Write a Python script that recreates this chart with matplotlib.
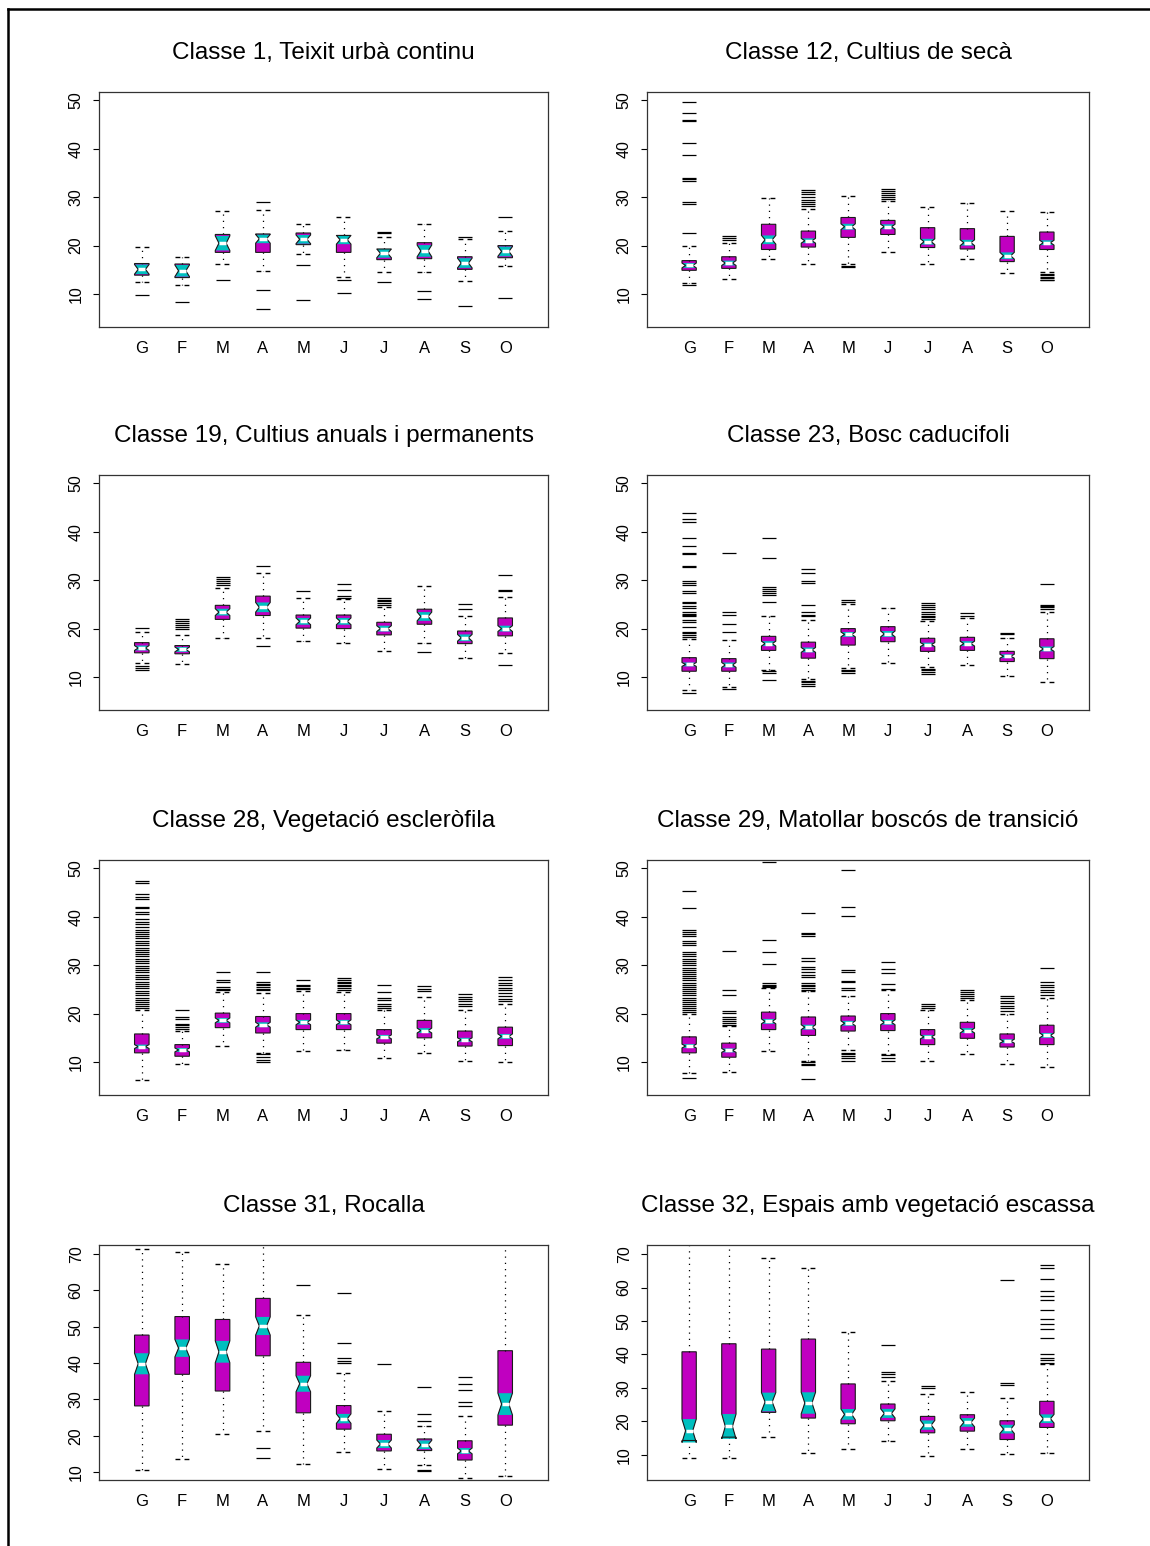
import matplotlib
matplotlib.use("Agg")
import matplotlib.pyplot as plt
from matplotlib.patches import PathPatch
from matplotlib.lines import Line2D

plt.rcParams["font.family"] = ["Liberation Sans", "DejaVu Sans"]

# %% data
months = ["G", "F", "M", "A", "M", "J", "J", "A", "S", "O"]
titles = [
    "Classe 1, Teixit urbà continu",
    "Classe 12, Cultius de secà",
    "Classe 19, Cultius anuals i permanents",
    "Classe 23, Bosc caducifoli",
    "Classe 28, Vegetació escleròfila",
    "Classe 29, Matollar boscós de transició",
    "Classe 31, Rocalla",
    "Classe 32, Espais amb vegetació escassa",
]

c1_lo = [12.4, 11.9, 16.3, 14.7, 18.2, 13.6, 14.6, 14.6, 12.7, 15.8]
c1_q1 = [13.9, 13.4, 18.6, 18.6, 20.2, 18.6, 17.1, 17.3, 15.1, 17.5]
c1_med = [15.1, 14.8, 20.5, 21.4, 21.3, 21.2, 18.4, 18.9, 16.4, 18.8]
c1_q3 = [16.3, 16.2, 22.3, 22.4, 22.6, 22.1, 19.3, 20.6, 17.7, 20.0]
c1_hi = [19.7, 17.7, 27.1, 27.4, 24.4, 26.0, 21.7, 24.4, 21.3, 23.0]
c1_notch = [1.0, 1.2, 1.5, 0.9, 0.9, 0.9, 0.9, 1.2, 1.0, 1.0]
c1_out = [[9.8], [8.4], [12.9], [28.9, 10.9, 6.9], [16.0, 8.8], [12.9, 10.3],
          [22.8, 22.5, 12.5], [10.7, 8.9], [21.7, 7.5], [26.0, 9.1]]

c12_lo = [12.2, 13.2, 17.3, 16.1, 16.1, 18.6, 16.3, 17.3, 14.4, 14.6]
c12_q1 = [14.9, 15.3, 19.2, 19.7, 21.7, 22.3, 19.6, 19.3, 16.7, 19.2]
c12_med = [15.9, 16.4, 21.2, 21.0, 23.9, 23.9, 20.8, 20.6, 17.9, 20.6]
c12_q3 = [16.9, 17.7, 24.4, 23.0, 25.8, 25.2, 23.7, 23.5, 21.9, 22.8]
c12_hi = [19.9, 20.6, 29.8, 27.6, 30.2, 29.2, 28.0, 28.8, 27.1, 26.9]
c12_notch = [0.5, 0.5, 0.9, 0.5, 0.6, 0.5, 0.6, 0.6, 0.7, 0.5]
c12_out = [[49.7, 47.4, 45.9, 45.7, 41.1, 38.7, 34.0, 33.7, 33.4, 29.0, 28.6, 22.6, 11.8],
           [21.9, 21.6, 21.2], [],
           [31.5, 31.1, 30.6, 30.0, 29.5, 28.9, 28.5, 28.1],
           [15.8, 15.5],
           [31.7, 31.3, 30.9, 30.5, 30.1, 29.7],
           [], [], [],
           [14.2, 13.9, 13.6, 13.3, 13.0, 12.8]]

c19_lo = [13.0, 12.6, 18.1, 18.1, 17.4, 17.0, 15.4, 17.1, 13.9, 14.9]
c19_q1 = [15.0, 14.8, 21.9, 22.7, 20.1, 20.0, 18.7, 20.9, 16.9, 18.5]
c19_med = [16.0, 15.7, 23.4, 24.4, 21.5, 21.5, 20.0, 22.5, 18.1, 20.0]
c19_q3 = [17.1, 16.5, 24.8, 26.7, 22.8, 22.8, 21.3, 24.0, 19.5, 22.2]
c19_hi = [19.4, 18.7, 28.4, 31.4, 26.3, 26.2, 24.4, 28.7, 22.5, 26.5]
c19_notch = [0.5, 0.5, 0.7, 1.0, 0.7, 0.7, 0.6, 0.9, 0.7, 0.6]
c19_out = [[20.2, 12.3, 11.9, 11.4],
           [22.0, 21.5, 21.1, 20.7, 20.4, 20.0],
           [30.7, 30.3, 29.8, 29.4, 29.0],
           [32.9, 16.5], [27.7],
           [29.2, 27.9, 26.8, 26.4],
           [26.4, 26.0, 25.6, 25.2, 24.8],
           [15.1], [25.1, 24.0],
           [31.0, 28.0, 27.7, 12.5]]

c23_lo = [7.3, 7.9, 11.5, 9.6, 11.9, 13.0, 12.0, 12.4, 10.3, 9.0]
c23_q1 = [11.2, 11.2, 15.5, 13.9, 16.6, 17.3, 15.3, 15.5, 13.2, 13.8]
c23_med = [12.6, 12.5, 16.9, 15.6, 18.8, 18.9, 16.7, 16.9, 14.3, 15.8]
c23_q3 = [14.0, 13.8, 18.4, 17.2, 20.0, 20.4, 18.0, 18.2, 15.3, 17.9]
c23_hi = [17.9, 17.6, 22.5, 21.8, 25.0, 24.3, 21.5, 22.2, 18.0, 23.5]
c23_notch = [0.4, 0.5, 0.5, 0.5, 0.5, 0.6, 0.4, 0.5, 0.4, 0.5]
c23_out = [[43.8, 42.6, 42.0, 38.7, 37.0, 35.6, 35.4, 33.0, 32.8, 29.9, 29.5, 29.0,
            27.7, 27.4, 25.5, 25.2, 24.6, 24.3, 23.4, 23.1, 22.9, 22.5, 21.7, 21.3,
            20.3, 19.3, 19.0, 18.7, 18.2, 6.8],
           [35.5, 23.5, 22.9, 21.0, 19.3, 7.5],
           [38.6, 34.5, 28.6, 28.1, 27.7, 27.3, 27.0, 25.5, 11.2, 10.9, 9.4],
           [32.2, 31.4, 29.9, 29.4, 24.8, 23.5, 22.9, 22.5, 9.2, 8.9, 8.6, 8.2],
           [25.8, 25.5, 11.5, 11.2, 10.8],
           [],
           [25.2, 24.8, 24.4, 24.0, 23.5, 23.1, 22.7, 22.3, 21.9, 11.7, 11.4, 11.0, 10.7],
           [23.2, 22.7], [19.1, 18.8],
           [29.2, 24.9, 24.6, 24.4, 24.1]]

c28_lo = [6.2, 9.7, 13.4, 11.9, 12.3, 12.5, 10.9, 11.9, 10.3, 10.0]
c28_q1 = [11.9, 11.2, 17.1, 16.0, 16.7, 16.7, 13.9, 15.0, 13.3, 13.4]
c28_med = [13.2, 12.5, 18.6, 17.7, 18.2, 18.2, 15.2, 16.5, 14.6, 15.3]
c28_q3 = [15.8, 13.6, 20.1, 19.4, 20.0, 20.0, 16.7, 18.6, 16.4, 17.2]
c28_hi = [20.8, 16.5, 24.5, 24.2, 24.6, 24.4, 20.7, 23.5, 20.8, 22.0]
c28_notch = [0.4, 0.4, 0.5, 0.5, 0.5, 0.5, 0.4, 0.5, 0.4, 0.5]
c28_out = [[47.4, 47.0, 44.6, 44.1, 43.6, 42.0, 41.7, 41.0, 40.6, 39.5, 39.0, 38.4,
            37.8, 37.3, 36.9, 36.4, 36.0, 35.5, 35.0, 34.6, 34.1, 33.6, 33.2, 32.7,
            32.2, 31.8, 31.3, 30.8, 30.4, 29.9, 29.4, 29.0, 28.5, 28.0, 27.5, 27.1,
            26.6, 26.1, 25.7, 25.2, 24.7, 24.3, 23.8, 23.3, 22.9, 22.4, 21.9, 21.5, 21.1],
           [20.8, 19.3, 18.9, 17.9, 17.6, 17.2, 16.9],
           [28.6, 27.0, 26.5, 25.5, 25.1, 24.8],
           [28.6, 26.5, 26.2, 25.8, 25.5, 25.1, 24.8, 11.6, 11.0, 10.5, 10.0],
           [27.0, 26.0, 25.7, 25.3, 25.0],
           [27.3, 27.0, 26.6, 26.3, 25.9, 25.6, 25.2, 24.8],
           [25.8, 24.4, 23.3, 22.9, 21.9, 21.5, 21.1],
           [25.6, 25.1, 24.6],
           [24.1, 23.5, 23.1, 22.5, 22.0, 21.5],
           [27.5, 27.0, 26.4, 25.9, 25.3, 24.8, 24.2, 23.7, 23.1, 22.6]]

c29_lo = [7.7, 7.9, 12.3, 10.3, 12.4, 11.7, 10.3, 11.7, 9.5, 9.0]
c29_q1 = [11.9, 11.0, 16.7, 15.5, 16.4, 16.5, 13.6, 14.9, 13.1, 13.6]
c29_med = [13.3, 12.4, 18.4, 17.2, 18.0, 18.2, 15.2, 16.5, 14.3, 15.5]
c29_q3 = [15.2, 13.9, 20.3, 19.3, 19.5, 20.0, 16.7, 18.2, 15.8, 17.6]
c29_hi = [19.9, 17.4, 25.2, 24.6, 23.7, 24.8, 20.8, 22.9, 20.0, 23.3]
c29_notch = [0.4, 0.4, 0.5, 0.5, 0.5, 0.5, 0.4, 0.5, 0.4, 0.5]
c29_out = [[45.4, 41.8, 37.2, 36.8, 36.4, 36.0, 35.0, 34.5, 34.1, 32.7, 32.2, 31.8,
            31.3, 30.9, 30.4, 30.0, 29.5, 29.1, 28.6, 28.2, 27.8, 27.3, 26.9, 26.4,
            26.0, 25.5, 25.1, 24.6, 24.2, 23.8, 23.3, 22.9, 22.4, 22.0, 21.6, 21.1,
            20.7, 20.3, 6.7],
           [33.0, 24.9, 23.9, 20.5, 20.1, 19.3, 18.9, 18.5, 18.0, 17.6],
           [51.2, 35.2, 32.7, 30.3, 26.3, 26.0, 25.7, 25.5],
           [40.7, 36.7, 36.4, 36.0, 31.5, 30.8, 29.7, 29.2, 28.6, 27.9, 27.5, 26.3,
            25.9, 25.6, 25.3, 24.9, 10.0, 9.7, 9.3, 6.6],
           [49.7, 42.1, 40.2, 28.9, 28.6, 26.8, 26.5, 25.3, 24.8, 11.9, 11.6, 11.2,
            10.8, 10.3],
           [30.6, 29.2, 28.4, 26.2, 25.1, 11.4, 10.9, 10.3],
           [21.9, 21.5, 21.1],
           [24.9, 24.5, 24.1, 23.7, 23.3],
           [23.7, 23.3, 22.7, 22.2, 21.6, 21.1, 20.5],
           [29.4, 26.5, 26.0, 25.5, 24.9, 24.4, 23.8]]

c31_lo = [10.6, 13.5, 20.6, 21.3, 12.1, 15.4, 10.8, 11.8, 8.4, 8.9]
c31_q1 = [28.2, 36.9, 32.3, 42.0, 26.3, 21.8, 15.8, 15.9, 13.3, 22.9]
c31_med = [39.8, 44.1, 43.1, 50.2, 34.3, 24.7, 17.7, 17.5, 15.8, 28.7]
c31_q3 = [47.7, 52.8, 52.0, 57.8, 40.2, 28.3, 20.4, 19.1, 18.6, 43.4]
c31_hi = [71.4, 70.6, 67.2, 74.0, 53.2, 37.2, 26.8, 22.7, 25.5, 74.0]
c31_notch = [2.9, 2.4, 3.0, 2.5, 2.2, 1.3, 1.1, 1.2, 0.8, 3.0]
c31_out = [[], [], [], [16.5, 13.9], [61.5],
           [59.4, 45.4, 41.3, 40.6, 39.9],
           [39.7],
           [33.3, 25.9, 24.1, 10.6, 10.3],
           [36.1, 34.2, 32.6, 29.4, 28.2],
           []]

c32_lo = [9.1, 9.1, 15.4, 10.6, 11.8, 14.1, 9.6, 11.8, 10.3, 10.6]
c32_q1 = [14.3, 15.3, 22.7, 21.0, 19.3, 20.2, 16.6, 17.1, 14.6, 18.2]
c32_med = [17.2, 18.5, 25.8, 25.5, 22.1, 22.4, 18.9, 19.7, 17.7, 20.8]
c32_q3 = [40.8, 43.2, 41.6, 44.6, 31.2, 25.2, 21.5, 22.0, 20.2, 26.0]
c32_hi = [74.0, 74.0, 68.9, 65.9, 46.8, 32.2, 28.3, 28.7, 26.9, 37.2]
c32_notch = [3.5, 3.7, 2.8, 3.2, 1.6, 1.35, 1.4, 1.3, 1.3, 1.3]
c32_out = [[], [], [], [], [],
           [42.9, 34.9, 34.2, 33.4],
           [30.7, 30.0],
           [],
           [62.2, 31.4, 30.9],
           [66.7, 65.7, 62.4, 59.1, 57.5, 56.3, 53.3, 50.5, 49.1, 47.5, 44.9,
            40.2, 38.8, 38.2, 37.4]]

panels = [
    (c1_lo, c1_q1, c1_med, c1_q3, c1_hi, c1_notch, c1_out),
    (c12_lo, c12_q1, c12_med, c12_q3, c12_hi, c12_notch, c12_out),
    (c19_lo, c19_q1, c19_med, c19_q3, c19_hi, c19_notch, c19_out),
    (c23_lo, c23_q1, c23_med, c23_q3, c23_hi, c23_notch, c23_out),
    (c28_lo, c28_q1, c28_med, c28_q3, c28_hi, c28_notch, c28_out),
    (c29_lo, c29_q1, c29_med, c29_q3, c29_hi, c29_notch, c29_out),
    (c31_lo, c31_q1, c31_med, c31_q3, c31_hi, c31_notch, c31_out),
    (c32_lo, c32_q1, c32_med, c32_q3, c32_hi, c32_notch, c32_out),
]

# %% layout (pixels)
W, H = 1150, 1546
col_x = [(99, 449), (647, 442)]
row_top = [92, 475, 860, 1245]
ax_h = 235
ylims = [(3.2, 51.7)] * 6 + [(7.8, 72.5), (2.5, 72.7)]
yticks = [[10, 20, 30, 40, 50]] * 6 + [[10, 20, 30, 40, 50, 60, 70]] * 2

MAGENTA = "#C000C0"
CYAN = "#00BFBF"
bw = 0.36

fig = plt.figure(figsize=(W / 100, H / 100), dpi=100)

for k, (lo, q1, med, q3, hi, notch, out) in enumerate(panels):
    r, c = divmod(k, 2)
    x0, w = col_x[c]
    t = row_top[r]
    ax = fig.add_axes([x0 / W, 1 - (t + ax_h) / H, w / W, ax_h / H])

    stats = []
    for i in range(len(months)):
        stats.append(dict(med=med[i], q1=q1[i], q3=q3[i], whislo=lo[i], whishi=hi[i],
                          cilo=med[i] - notch[i], cihi=med[i] + notch[i],
                          fliers=out[i]))
    pos = list(range(1, len(months) + 1))
    res = ax.bxp(
        stats, positions=pos, widths=bw, capwidths=bw, shownotches=True,
        patch_artist=True,
        boxprops=dict(facecolor=MAGENTA, edgecolor="none", zorder=2),
        whiskerprops=dict(color="black", linestyle=(0, (1, 4)), linewidth=0.9),
        capprops=dict(color="black", linestyle=(0, (3.5, 3)), linewidth=1.0),
        medianprops=dict(color="white", linewidth=2.5, zorder=2.6),
        flierprops=dict(marker="_", markersize=10, markeredgewidth=0.9,
                        markeredgecolor="black", linestyle="none"),
    )
    # cyan notch band + outline on top
    for i, box in enumerate(res["boxes"]):
        p = pos[i]
        l, rr = p - bw / 2, p + bw / 2
        nl, nr = p - bw / 4, p + bw / 4
        lo_ci, hi_ci = stats[i]["cilo"], stats[i]["cihi"]
        ax.fill([l, nl, l, rr, nr, rr], [lo_ci, med[i], hi_ci, hi_ci, med[i], lo_ci],
                color=CYAN, lw=0, zorder=2.2)
        ax.add_patch(PathPatch(box.get_path(), fill=False, edgecolor="#1a1a1a",
                               lw=0.8, zorder=2.4))

    ax.set_xlim(-0.06, 11.06)
    ax.set_ylim(*ylims[k])
    ax.set_xticks(pos)
    ax.set_xticklabels(months)
    ax.set_yticks(yticks[k])
    ax.tick_params(axis="x", length=0, pad=10, labelsize=12)
    ax.tick_params(axis="y", length=4, width=0.8, pad=7, labelsize=11.5, labelrotation=90)
    for lab in ax.get_yticklabels():
        lab.set_va("center")
    for sp in ax.spines.values():
        sp.set_linewidth(0.9)
        sp.set_color("#333333")
    ax.set_title(titles[k], fontsize=17.5, pad=24)

# outer frame of the page
fig.add_artist(Line2D([8 / W, 1], [1 - 9 / H, 1 - 9 / H], color="black", lw=1.8))
fig.add_artist(Line2D([8 / W, 8 / W], [0, 1 - 9 / H], color="black", lw=1.8))

plt.savefig("out.png", dpi=100)
